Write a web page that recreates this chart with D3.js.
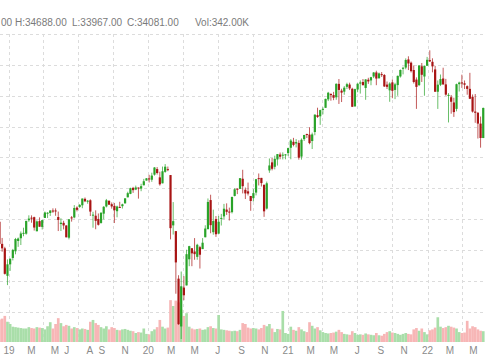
<!DOCTYPE html>
<html>
<head>
<meta charset="utf-8">
<script src="https://cdn.jsdelivr.net/npm/d3@7"></script>
<style>
  body { margin: 0; background: #fff; }
  svg { display: block; font-family: Arial, "Liberation Sans", sans-serif; }
</style>
</head>
<body>
<svg id="chart" width="485" height="360"></svg>
<script>
// weekly bars, first one is the week of Mon 3 Dec 2018
const firstWeek = new Date(2018, 11, 3)

const open = [
    25826, 24389, 24100, 22317, 23062,
    // 2019
    23474, 23908, 24578, 24755, 25063, 25052, 25923, 26091, 26122, 25208, 25868, 25491, 26075,
    26390, 26394, 26553, 26558, 26131, 25678, 25753, 25584, 24790, 26108, 26105, 26745, 26787,
    26895, 27312, 27160, 27220, 26270, 26218, 26008, 25748, 26351, 26818, 27181, 26965, 26858,
    26510, 26787, 26838, 27017, 27411, 27637, 28023, 27917, 28047, 27979, 28192, 28499, 28638,
    // 2020
    28553, 28883, 29245, 28707, 28320, 29064, 29240, 28857, 25590, 25217, 22132, 19028, 21553,
    21693, 23389, 24107, 23896, 23547, 24174, 24052, 24818, 25343, 27233, 25151, 25999, 25053,
    26050, 26174, 26615, 26486, 26449, 27501, 27969, 27960, 28617, 27901, 27799, 27499, 27359,
    27720, 28658, 28673, 28228, 26681, 29157, 29680, 29392, 29869, 30188, 30120, 30174, 30283,
    // 2021
    30627, 31015, 30905, 30942, 30054, 31190, 31520, 31482, 31066, 31650, 32745, 32671, 33090,
    33222, 33771, 34124, 34048, 33904, 34775, 34336, 34271, 34584, 34732, 34458, 33313, 34409,
    34792, 34896, 34511, 35046, 34999, 35252, 35518, 35143, 35409, 35351, 34729, 34357, 34872,
    34382, 34696, 35258, 35754, 35833, 36361, 36151, 35675, 35054, 34694, 35917, 35254, 35952,
    // 2022
    36322, 36208, 35713, 34265, 34716, 35124, 34743, 34015, 33909, 33569, 33152, 34756, 34867,
    34813, 34626, 34451, 33940, 32978, 32899, 32197, 31262,
]
const high = [
    25980, 24775, 24200, 23381, 23339,
    24064, 24777, 24801, 25193, 25439, 25883, 26242, 26241, 26156, 25912, 26110, 25949, 26488,
    26448, 26565, 26696, 26695, 26487, 26051, 25888, 25600, 26003, 26197, 26907, 26825, 26966,
    27333, 27399, 27238, 27283, 26470, 26566, 26364, 26457, 26840, 27306, 27219, 27079, 27047,
    26869, 27122, 27000, 27347, 27775, 28036, 28090, 28174, 28047, 28290, 28608, 28665, 28872,
    29009, 29373, 29374, 29075, 29409, 29568, 29409, 28857, 27102, 25217, 22353, 22595, 22293,
    24009, 24264, 24107, 24765, 24396, 24261, 24764, 25596, 27338, 27580, 26611, 26196, 26205,
    26335, 26985, 27020, 26743, 27459, 28000, 28004, 28660, 29199, 28045, 28368, 27499, 27960,
    28606, 28958, 28673, 28228, 28434, 29933, 29963, 30116, 30219, 30319, 30329, 30221, 30637,
    31194, 31272, 31188, 31112, 31233, 31467, 31543, 31961, 31613, 32793, 33228, 33098, 33255,
    33811, 34256, 34155, 34257, 34811, 35091, 34461, 34631, 34849, 34853, 34525, 34465, 34812,
    35000, 35091, 35080, 35171, 35230, 35543, 35631, 35510, 35542, 35411, 34929, 34880, 35062,
    34844, 35316, 35712, 35892, 36432, 36565, 36226, 35970, 35197, 35986, 36131, 35961, 36528,
    36952, 36435, 35944, 34997, 35384, 35824, 35100, 34174, 34055, 33875, 34790, 34920, 35372,
    34997, 34676, 35492, 34088, 34117, 32944, 32654, 33236,
]
const low = [
    24242, 23881, 22397, 21713, 22638,
    23316, 23713, 24195, 24315, 24883, 24988, 25822, 25762, 25252, 25208, 25502, 25323, 26075,
    26071, 26202, 26405, 26214, 25222, 25223, 25329, 24815, 24680, 25833, 26050, 26498, 26730,
    26705, 27100, 26995, 26198, 25439, 25339, 25579, 25700, 25978, 26755, 26916, 26676, 25743,
    26114, 26735, 26683, 27016, 27410, 27616, 27702, 27877, 27326, 27808, 28192, 28499, 28376,
    28418, 28819, 28892, 28169, 28320, 29005, 29107, 24681, 24995, 21154, 19138, 18214, 20736,
    21693, 22942, 22941, 23360, 23361, 22790, 24052, 24818, 25343, 25080, 24986, 24843, 25053,
    25582, 25990, 26271, 25903, 26365, 27470, 27618, 27960, 27665, 27300, 27531, 26537, 27141,
    27536, 28182, 28113, 26143, 26620, 29003, 29160, 29226, 29474, 29883, 29870, 29879, 30098,
    29881, 30720, 30650, 29856, 29857, 31068, 31263, 30856, 30547, 31439, 32566, 32115, 32797,
    33222, 33659, 33684, 33716, 33743, 33473, 33596, 34069, 34440, 34372, 33271, 33305, 34230,
    34145, 34685, 33741, 34776, 34687, 35149, 34690, 35110, 35226, 34577, 34441, 33613, 33844,
    33785, 34002, 35183, 35392, 35722, 35672, 35515, 34800, 33152, 34632, 34900, 34006, 35948,
    36202, 35525, 34265, 33150, 34632, 34732, 34008, 32272, 32840, 32632, 32993, 34279, 34514,
    34440, 34072, 33791, 32913, 32250, 31228, 30636, 31254,
]
const close = [
    24389, 24100, 22445, 23062, 23433,
    23996, 24706, 24737, 25064, 25106, 25883, 26031, 26026, 25450, 25849, 25502, 25929, 26425,
    26412, 26559, 26543, 26505, 25942, 25764, 25586, 24815, 25984, 26090, 26719, 26600, 26922,
    27332, 27154, 27192, 26485, 26287, 25886, 25629, 26403, 26797, 27220, 26935, 26820, 26573,
    26817, 26770, 26958, 27347, 27681, 28005, 27876, 28051, 28015, 28135, 28455, 28645, 28634,
    28823, 29348, 28990, 28256, 29102, 29398, 29219, 25409, 25865, 23186, 19174, 21637, 21053,
    23719, 24242, 23775, 23724, 24331, 23685, 24465, 25383, 27111, 25606, 25871, 25016, 25827,
    26075, 26672, 26470, 26428, 27433, 27931, 27930, 28654, 28133, 27666, 27657, 27174, 27683,
    28587, 28606, 28336, 26502, 28323, 29480, 29263, 29910, 30218, 30046, 30179, 30200, 30606,
    31098, 30814, 30997, 29983, 31148, 31458, 31494, 30932, 31496, 32779, 32628, 33073, 33153,
    33801, 34200, 34043, 33875, 34778, 34382, 34208, 34529, 34756, 34480, 33290, 34434, 34786,
    34870, 34688, 35062, 34935, 35209, 35515, 35120, 35455, 35369, 34607, 34584, 34798, 34326,
    34746, 35295, 35677, 35820, 36328, 36100, 35602, 34899, 34580, 35971, 35365, 35951, 36338,
    36231, 35912, 34265, 34725, 35090, 34738, 34079, 34059, 33615, 32944, 34755, 34861, 34818,
    34721, 34451, 33811, 32977, 32899, 32197, 31262, 33213,
]
// relative volume
const volume = [
    50, 52, 58, 45, 40,
    34, 33, 32, 31, 30, 30, 33, 31, 30, 33, 32, 31, 28, 35, 44, 30, 40, 53, 42, 35, 38, 36,
    30, 33, 31, 28, 30, 29, 27, 45, 49, 42, 38, 33, 30, 35, 28, 33, 31, 27, 26, 28, 29, 27,
    25, 24, 20, 22, 21, 30, 18, 17,
    24, 28, 33, 49, 34, 30, 32, 93, 80, 92, 88, 72, 58, 64, 34, 30, 28, 29, 30, 27, 28, 33,
    35, 31, 30, 60, 28, 27, 26, 25, 24, 25, 24, 27, 42, 40, 32, 30, 31, 30, 28, 31, 38, 35,
    40, 30, 22, 29, 28, 69, 20, 18,
    34, 27, 25, 33, 28, 24, 22, 44, 36, 30, 33, 26, 22, 20, 19, 20, 21, 23, 27, 22, 18, 17,
    16, 24, 20, 16, 17, 16, 19, 17, 16, 15, 20, 15, 14, 18, 22, 24, 21, 20, 18, 16, 18, 20,
    18, 17, 28, 31, 25, 30, 22, 17,
    26, 28, 32, 55, 34, 31, 33, 36, 34, 32, 30, 22, 20, 21, 47, 30, 35, 33, 28, 25, 24,
]

const tickDates = [
    "2019-01-01", "2019-03-01", "2019-05-01", "2019-06-01", "2019-08-01", "2019-09-01", "2019-11-01",
    "2020-01-01", "2020-03-01", "2020-05-01", "2020-07-01", "2020-09-01", "2020-11-01",
    "2021-01-01", "2021-03-01", "2021-05-01", "2021-07-01", "2021-09-01", "2021-11-01",
    "2022-01-01", "2022-03-01", "2022-05-01",
]
const tickLabels = ["19", "M", "M", "J", "A", "S", "N", "20", "M", "M", "J", "S", "N",
    "21", "M", "M", "J", "S", "N", "22", "M", "M"]
const header = ["00", "H:34688.00", "L:33967.00", "C:34081.00", "Vol:342.00K"]
const headerX = [1, 15, 72, 127, 195]

const upColor = "#29a329"
const downColor = "#a81414"
const upVol = "#a9dea9"
const downVol = "#f7b6b6"
const gridColor = "#dcdcdc"
const textColor = "#8a8a8a"

let bars = open.map((o, i) => {
    let week = d3.timeDay.offset(firstWeek, i * 7)
    return {
        date: d3.timeDay.offset(week, 4),
        open: o, high: high[i], low: low[i], close: close[i], volume: volume[i],
        up: close[i] >= o,
    }
})

let parse = d3.timeParse("%Y-%m-%d")
let x = d3.scaleTime()
    .domain([parse("2019-01-01"), parse("2022-01-01")])
    .range([9, 427.5])
let y = d3.scaleLinear()
    .domain([20000, 38000])
    .range([311.5, 34.2])
let yVol = d3.scaleLinear()
    .domain([0, 100])
    .range([342, 297])
let step = x(d3.timeDay.offset(firstWeek, 7)) - x(firstWeek)

let svg = d3.select("#chart")
svg.append("rect").attr("width", 485).attr("height", 360).attr("fill", "#fff")

// grid
let grid = svg.append("g")
    .attr("stroke", gridColor)
    .attr("stroke-dasharray", "3,3")
    .attr("shape-rendering", "crispEdges")
grid.selectAll("line.h")
    .data(d3.range(20000, 38001, 2000))
    .join("line")
        .classed("h", true)
        .attr("x1", 0)
        .attr("x2", 485)
        .attr("y1", d => Math.round(y(d)) + 0.5)
        .attr("y2", d => Math.round(y(d)) + 0.5)
grid.selectAll("line.v")
    .data(d3.timeMonth.every(3).range(parse("2018-12-01"), parse("2022-07-01")))
    .join("line")
        .classed("v", true)
        .attr("x1", d => Math.round(x(d)) + 0.5)
        .attr("x2", d => Math.round(x(d)) + 0.5)
        .attr("y1", 34)
        .attr("y2", 342)

// volume
svg.append("g")
    .selectAll("rect")
    .data(bars)
    .join("rect")
        .attr("x", d => x(d.date) - step / 2)
        .attr("width", step)
        .attr("y", d => yVol(d.volume))
        .attr("height", d => yVol(0) - yVol(d.volume))
        .attr("fill", d => d.up ? upVol : downVol)

// candles
let candles = svg.append("g")
    .selectAll("g")
    .data(bars)
    .join("g")
candles.append("line")
    .attr("x1", d => x(d.date))
    .attr("x2", d => x(d.date))
    .attr("y1", d => y(d.high))
    .attr("y2", d => y(d.low))
    .attr("stroke", d => d.up ? upColor : downColor)
    .attr("stroke-opacity", 0.7)
    .attr("stroke-width", 1)
candles.append("rect")
    .attr("x", d => x(d.date) - 1.1)
    .attr("width", 2.2)
    .attr("y", d => y(Math.max(d.open, d.close)))
    .attr("height", d => Math.max(1, Math.abs(y(d.open) - y(d.close))))
    .attr("fill", d => d.up ? upColor : downColor)

// month labels
svg.append("g")
    .attr("font-size", 10)
    .attr("fill", textColor)
    .attr("text-anchor", "middle")
    .selectAll("text")
    .data(tickDates)
    .join("text")
        .attr("x", d => x(parse(d)))
        .attr("y", 354)
        .text((d, i) => tickLabels[i])

// header
svg.append("g")
    .attr("font-size", 10)
    .attr("fill", "#7a7a7a")
    .selectAll("text")
    .data(header)
    .join("text")
        .attr("x", (d, i) => headerX[i])
        .attr("y", 26)
        .text(d => d)
</script>
</body>
</html>
